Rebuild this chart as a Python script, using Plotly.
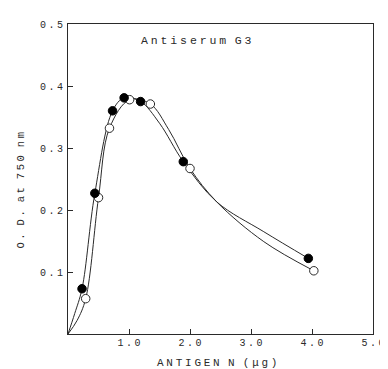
import plotly.graph_objects as go

# Measured data points
filled_x = [0.23, 0.44, 0.73, 0.92, 1.19, 1.89, 3.94]
filled_y = [0.073, 0.227, 0.360, 0.381, 0.375, 0.278, 0.122]
open_x = [0.29, 0.50, 0.68, 1.01, 1.35, 2.00, 4.03]
open_y = [0.057, 0.220, 0.332, 0.378, 0.371, 0.267, 0.102]

# Drawn fitted curves, read along their paths in the picture
filled_curve_x = [0.0, 0.11, 0.23, 0.44, 0.73, 0.92, 1.19, 1.50, 1.89, 2.44, 3.21, 3.94]
filled_curve_y = [0.0, 0.033, 0.073, 0.227, 0.360, 0.381, 0.375, 0.340, 0.278, 0.213, 0.165, 0.122]
open_curve_x = [0.0, 0.15, 0.29, 0.50, 0.68, 1.01, 1.35, 1.65, 2.00, 2.44, 3.21, 4.03]
open_curve_y = [0.0, 0.022, 0.057, 0.220, 0.332, 0.378, 0.371, 0.330, 0.267, 0.213, 0.149, 0.102]

x_ticks = [1.0, 2.0, 3.0, 4.0, 5.0]
x_tick_text = ["1.0", "2.0", "3.0", "4.0", "5.0"]
y_ticks = [0.1, 0.2, 0.3, 0.4, 0.5]
y_tick_text = ["0.1", "0.2", "0.3", "0.4", "0.5"]

FONT = "Liberation Mono, DejaVu Sans Mono, monospace"
INK = "#2a2a2a"
SP = "\u2005"

def spaced(s):
    return SP.join(list(s))

def words(*ws, gap=3):
    return (SP * gap).join(spaced(w) for w in ws)

fig = go.Figure()

for cx, cy in [(filled_curve_x, filled_curve_y), (open_curve_x, open_curve_y)]:
    fig.add_trace(go.Scatter(x=cx, y=cy, mode="lines",
                             line=dict(color=INK, width=1, shape="spline", smoothing=1.0),
                             showlegend=False, hoverinfo="skip"))
fig.add_trace(go.Scatter(x=open_x, y=open_y, mode="markers",
                         marker=dict(symbol="circle", size=8.5, color="white",
                                     line=dict(color=INK, width=1)),
                         showlegend=False))
fig.add_trace(go.Scatter(x=filled_x, y=filled_y, mode="markers",
                         marker=dict(symbol="circle", size=8.5, color="black",
                                     line=dict(color="black", width=1)),
                         showlegend=False))

tickfont = dict(family=FONT, size=10, color=INK)
fig.update_layout(
    width=388, height=369,
    # page body adds an 8px offset; margins compensate so the plot area lands at 68..377 x 21..334
    margin=dict(l=60, r=19, t=13, b=43),
    paper_bgcolor="white", plot_bgcolor="white",
    font=dict(family=FONT, size=10, color=INK),
    xaxis=dict(range=[0, 5.0001], tickvals=x_ticks, ticktext=[spaced(t) for t in x_tick_text],
               ticks="inside", ticklen=5, tickcolor=INK, showgrid=False, zeroline=False,
               showline=True, linecolor=INK, linewidth=1.3, mirror=True,
               tickfont=tickfont, ticklabelstandoff=-1),
    yaxis=dict(range=[0, 0.5001], tickvals=y_ticks, ticktext=[spaced(t) for t in y_tick_text],
               ticks="inside", ticklen=5, tickcolor=INK, showgrid=False, zeroline=False,
               showline=True, linecolor=INK, linewidth=1.1, mirror=True,
               tickfont=tickfont, ticklabelstandoff=2),
    annotations=[
        dict(text=words("Antiserum", "G3"), x=0.234, y=0.947, xref="paper", yref="paper",
             xanchor="left", yanchor="middle", showarrow=False,
             font=dict(family=FONT, size=11.5, color=INK)),
        dict(text=words("O.", "D.", "at", "750", "nm", gap=3),
             x=-0.155, y=0.465, xref="paper", yref="paper", xanchor="center", yanchor="middle",
             showarrow=False, textangle=-90,
             font=dict(family=FONT, size=10.5, color=INK)),
        dict(text=words("ANTIGEN", "N", "(μg)"),
             x=0.49, y=-0.093, xref="paper", yref="paper", xanchor="center", yanchor="middle",
             showarrow=False,
             font=dict(family=FONT, size=11, color=INK)),
    ],
)

fig.write_html("out.html")
